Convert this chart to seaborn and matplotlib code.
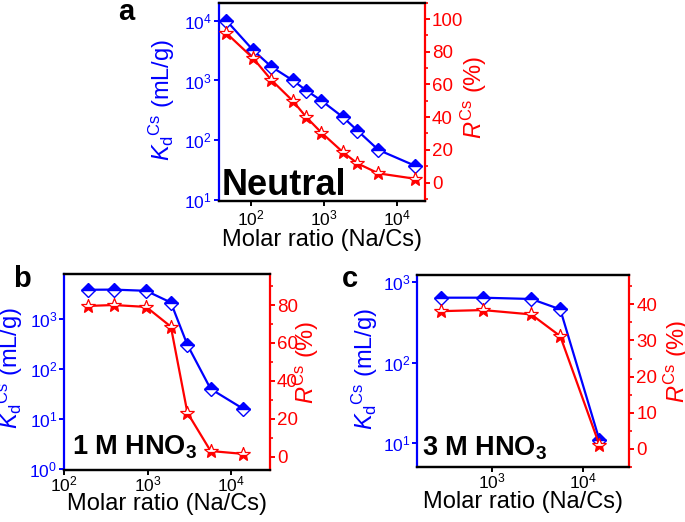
import numpy as np
import pandas as pd
import matplotlib
matplotlib.use("Agg")
import matplotlib.pyplot as plt
import matplotlib.ticker as mticker
import seaborn as sns

# ---------------- data ----------------
ratio_a = [46, 107, 190, 376, 575, 925, 1830, 2890, 5600, 17800]
kd_a = [10000, 3200, 1700, 1000, 680, 460, 243, 145, 69, 37.5]
r_a = [91.3, 76, 62.7, 49.8, 39.9, 30.5, 18.5, 11.7, 5.6, 2.3]

ratio_b = [190, 390, 960, 1900, 3000, 5700, 14000]
kd_b = [3870, 3900, 3690, 2150, 305, 40, 16]
r_b = [79.5, 80, 79, 68.6, 23.2, 3.0, 1.5]

ratio_c = [280, 800, 2700, 5600, 15000]
kd_c = [634, 634, 611, 455, 11]
r_c = [38.1, 38.4, 37.2, 31.2, 1.1]

panel_letters = ["a", "b", "c"]
panel_texts = ["Neutral", r"1 M HNO$_\mathbf{3}$", r"3 M HNO$_\mathbf{3}$"]
xlabel = "Molar ratio (Na/Cs)"
kd_label = r"$\mathit{K}_\mathrm{d}{}^\mathrm{Cs}$ (mL/g)"
r_label = r"$\mathit{R}^\mathrm{Cs}$ (%)"

# ---------------- style ----------------
sns.set_style("ticks")
plt.rcParams["font.family"] = ["Liberation Sans", "DejaVu Sans"]
plt.rcParams["mathtext.fontset"] = "custom"
plt.rcParams["mathtext.rm"] = "Liberation Sans"
plt.rcParams["mathtext.it"] = "Liberation Sans:italic"
plt.rcParams["mathtext.bf"] = "Liberation Sans:bold"
plt.rcParams["text.color"] = "black"
plt.rcParams["axes.labelcolor"] = "black"

BLUE = "#0000ff"
RED = "#ff0000"

fig = plt.figure(figsize=(6.85, 5.22), dpi=100)


def px_axes(l, r, t, b):
    W, H = 685.0, 522.0
    return [l / W, 1 - b / H, (r - l) / W, (b - t) / H]


configs = [
    dict(rect=px_axes(219, 425, 2.7, 201), x=ratio_a, kd=kd_a, r=r_a,
         xlim=(36.3, 24400), kdlim=(9.65, 20000), rlim=(-11.3, 110),
         rmajor=20, rminor=10, xticks=[1e2, 1e3, 1e4],
         kdticks=[1e1, 1e2, 1e3, 1e4],
         lab_l=(-0.205, 0.51), lab_r=(1.165, 0.525),
         txt=(0.015, 0.03), letter=(118, 20), xpad=0, tpad=2),
    dict(rect=px_axes(64.3, 270, 274.3, 470), x=ratio_b, kd=kd_b, r=r_b,
         xlim=(100, 29400), kdlim=(0.95, 7900), rlim=(-7.0, 96.2),
         rmajor=20, rminor=10, xticks=[1e2, 1e3, 1e4],
         kdticks=[1e0, 1e1, 1e2, 1e3],
         lab_l=(-0.19, 0.52), lab_r=(1.10, 0.55),
         txt=(0.036, 0.077), letter=(13, 287), xpad=-1, tpad=-0.5),
    dict(rect=px_axes(417.3, 629.3, 275, 467), x=ratio_c, kd=kd_c, r=r_c,
         xlim=(154, 31800), kdlim=(5.1, 1210), rlim=(-5.0, 48.1),
         rmajor=10, rminor=5, xticks=[1e3, 1e4],
         kdticks=[1e1, 1e2, 1e3],
         lab_l=(-0.176, 0.51), lab_r=(1.154, 0.55),
         txt=(0.02, 0.0625), letter=(342, 287), xpad=-0.5, tpad=0),
]

for i, c in enumerate(configs):
    ax = fig.add_axes(c["rect"])
    ax2 = ax.twinx()

    df = pd.DataFrame({"ratio": c["x"], "kd": c["kd"], "r": c["r"]})

    sns.lineplot(data=df, x="ratio", y="kd", ax=ax, color=BLUE, lw=1.6,
                 estimator=None, sort=False, marker="D", markersize=7.5,
                 fillstyle="top", markerfacecolor=BLUE,
                 markerfacecoloralt="white", markeredgecolor=BLUE,
                 markeredgewidth=1.0)
    sns.lineplot(data=df, x="ratio", y="r", ax=ax2, color=RED, lw=1.6,
                 estimator=None, sort=False, marker="*", markersize=10,
                 fillstyle="bottom", markerfacecolor=RED,
                 markerfacecoloralt="white", markeredgecolor=RED,
                 markeredgewidth=0.9)

    ax.set_xscale("log")
    ax.set_yscale("log")
    ax.set_xlim(*c["xlim"])
    ax.set_ylim(*c["kdlim"])
    ax2.set_ylim(*c["rlim"])

    ax.set_xticks(c["xticks"])
    ax.xaxis.set_minor_locator(mticker.NullLocator())
    ax.set_yticks(c["kdticks"])
    ax.yaxis.set_minor_locator(mticker.NullLocator())
    ax.xaxis.set_major_formatter(mticker.LogFormatterSciNotation())
    ax.yaxis.set_major_formatter(mticker.LogFormatterSciNotation())
    ax2.yaxis.set_major_locator(mticker.MultipleLocator(c["rmajor"]))
    ax2.yaxis.set_minor_locator(mticker.MultipleLocator(c["rminor"]))
    ax2.set_ylim(*c["rlim"])

    # spines
    for a in (ax, ax2):
        for s in a.spines.values():
            s.set_linewidth(1.6)
            s.set_color("black")
    ax.spines["left"].set_color(BLUE)
    ax2.spines["left"].set_visible(False)
    ax.spines["right"].set_visible(False)
    ax2.spines["right"].set_color(RED)

    ax.tick_params(axis="x", direction="out", length=3.5, width=1.4,
                   labelsize=12.5, colors="black", pad=c["tpad"])
    ax.tick_params(axis="y", direction="out", length=3.5, width=1.4,
                   labelsize=12.5, colors=BLUE, pad=1.5)
    ax2.tick_params(axis="y", which="major", direction="out", length=3.5,
                    width=1.4, labelsize=13.5, colors=RED, pad=1.5)
    ax2.tick_params(axis="y", which="minor", direction="out", length=2,
                    width=1.2, colors=RED)

    ax.set_xlabel(xlabel, fontsize=17, labelpad=c["xpad"], color="black")
    ax.set_ylabel(kd_label, fontsize=17, color=BLUE)
    ax.yaxis.set_label_coords(*c["lab_l"])
    ax2.set_ylabel(r_label, fontsize=17, color=RED)
    ax2.yaxis.set_label_coords(*c["lab_r"])

    fs = 26 if i == 0 else 19.5
    ax.text(c["txt"][0], c["txt"][1], panel_texts[i], transform=ax.transAxes,
            fontsize=fs, fontweight="bold", ha="left", va="baseline",
            color="black", zorder=5)

    lx, ly = c["letter"]
    fig.text(lx / 685.0, 1 - ly / 522.0, panel_letters[i], fontsize=21,
             fontweight="bold", ha="left", va="baseline", color="black")

fig.savefig("out.png", dpi=100)
